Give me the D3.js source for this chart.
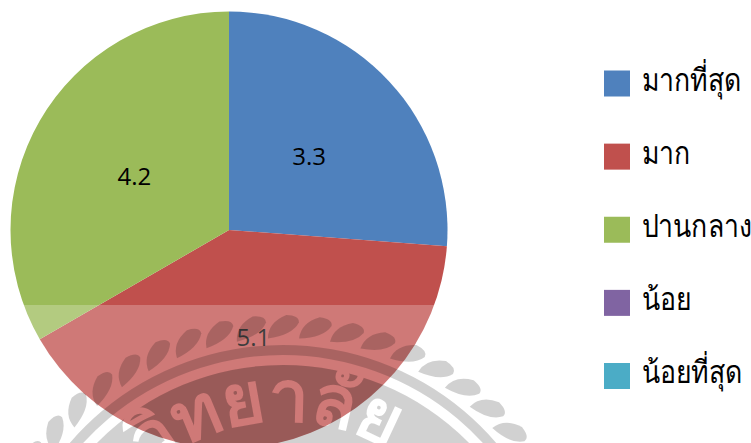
<!DOCTYPE html>
<html>
<meta charset="utf-8">
<head>
<style>
body { margin: 0; background: #fff; }
svg { display: block; }
</style>
<script src="https://d3js.org/d3.v7.min.js"></script>
</head>
<body>
  <svg width="751" height="443"></svg>
  <script>
  var categories = ["มากที่สุด", "มาก", "ปานกลาง", "น้อย", "น้อยที่สุด"];
  var values = [3.3, 5.1, 4.2, 0, 0];
  var colors = ["#4f81bd", "#c0504d", "#9bbb59", "#8064a2", "#4bacc6"];
  var sealText = "มหาวิทยาลัย";

  var svg = d3.select("svg");
  var radius = 218.5;

  var pie = d3.pie().sort(null);
  var arc = d3.arc().innerRadius(0).outerRadius(radius);
  var color = d3.scaleOrdinal().domain(categories).range(colors);

  var slices = pie(values).filter(function(d) { return d.value > 0; });
  var chart = svg.append("g").attr("transform", "translate(229,230)");

  chart.selectAll("path")
    .data(slices)
    .enter().append("path")
      .attr("d", arc)
      .attr("fill", function(d) { return colors[d.index]; });

  chart.selectAll("text")
    .data(slices)
    .enter().append("text")
      .attr("transform", function(d) { return "translate(" + arc.centroid(d) + ")"; })
      .attr("text-anchor", "middle")
      .attr("dy", "0.38em")
      .style("font-family", "'Open Sans', sans-serif")
      .style("font-size", "24px")
      .style("fill", "#000")
      .text(function(d) { return d.value; });

  // legend
  var legendY = d3.scalePoint().domain(categories).range([83.5, 376]);
  var legend = svg.selectAll(".legend")
    .data(categories)
    .enter().append("g")
      .attr("class", "legend")
      .attr("transform", function(d) { return "translate(604," + legendY(d) + ")"; });

  legend.append("rect")
    .attr("y", -13)
    .attr("width", 26)
    .attr("height", 26)
    .attr("fill", function(d) { return color(d); });

  legend.append("text")
    .attr("transform", "translate(37.5,7) scale(0.86,1)")
    .style("font-family", "'Liberation Serif', serif")
    .style("font-size", "31px")
    .style("fill", "#000")
    .text(function(d) { return d; });

  // pale band of the scanned page
  svg.append("rect")
    .attr("y", 305).attr("width", 560).attr("height", 138)
    .attr("fill", "#fff").attr("opacity", 0.24);

  // seal watermark
  var defs = svg.append("defs");
  defs.append("path")
    .attr("id", "sealPath")
    .attr("d", "M-205,0A205,205 0 0 1 205,0");

  var mask = defs.append("mask")
    .attr("id", "sealMask")
    .attr("maskUnits", "userSpaceOnUse")
    .attr("x", -400).attr("y", -400).attr("width", 800).attr("height", 800);
  mask.append("rect")
    .attr("x", -400).attr("y", -400).attr("width", 800).attr("height", 800)
    .attr("fill", "#fff");
  mask.append("text")
    .attr("fill", "#000")
    .style("font-family", "'Liberation Sans', sans-serif")
    .style("font-size", "72px")
    .style("font-weight", "bold")
    .append("textPath")
      .attr("href", "#sealPath")
      .attr("startOffset", "37%")
      .attr("text-anchor", "middle")
      .text(sealText);

  defs.append("clipPath")
    .attr("id", "pieClip")
    .append("circle")
      .attr("cx", 229 - 283).attr("cy", 230 - 626).attr("r", radius);

  var seal = svg.append("g")
    .attr("transform", "translate(283,626)")
    .attr("fill", "#000")
    .attr("fill-opacity", 0.18);

  var polar = function(r, deg) {
    var t = (deg - 90) * Math.PI / 180;
    return [r * Math.cos(t), r * Math.sin(t)];
  };

  seal.selectAll(".rope")
    .data(d3.range(-74, 75, 6.2))
    .enter().append("path")
      .attr("class", "rope")
      .attr("d", function(a) {
        return "M" + polar(288, a - 3.4)
             + "Q" + polar(304, a - 3.2) + " " + polar(311, a + 0.2)
             + "Q" + polar(311, a + 2.6) + " " + polar(304, a + 2.6)
             + "Q" + polar(291, a + 1.4) + " " + polar(288, a - 3.4) + "Z";
      });

  seal.append("path")
    .attr("d", d3.arc().innerRadius(271).outerRadius(281).startAngle(-1.4).endAngle(1.4)());

  var disc = d3.arc().innerRadius(0).outerRadius(261).startAngle(-Math.PI).endAngle(Math.PI)();
  seal.append("path")
    .attr("d", disc)
    .attr("mask", "url(#sealMask)");

  // disc reads darker where it crosses the pie
  seal.append("g")
    .attr("clip-path", "url(#pieClip)")
    .append("path")
      .attr("d", disc)
      .attr("mask", "url(#sealMask)")
      .attr("fill-opacity", 0.09);

  </script>
</body>
</html>
